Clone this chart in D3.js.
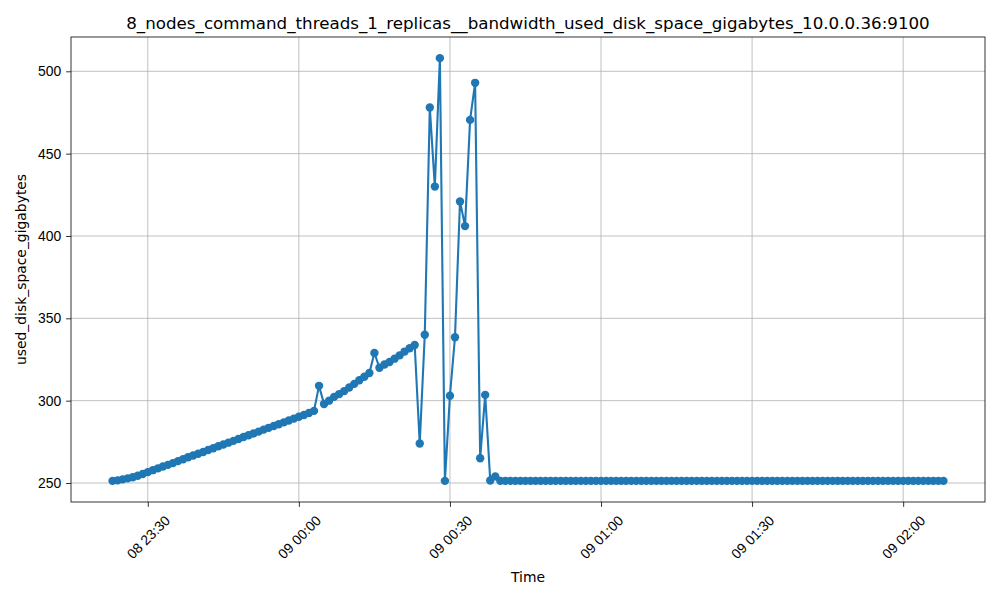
<!DOCTYPE html>
<html>
<head>
<meta charset="utf-8">
<script src="https://cdn.jsdelivr.net/npm/d3@7"></script>
<style>
  body { margin: 0; background: #fff; }
  svg { font-family: "DejaVu Sans", sans-serif; }
</style>
</head>
<body>
<div id="chart"></div>
<script>
// samples are one minute apart, starting at 08 23:23
var startTime = "2024-01-08T23:23:00Z";
var stepMinutes = 1;
var usedDisk = [
  251.3, 251.6, 252.2, 252.8, 253.5, 254.4, 255.5, 256.6, 257.8, 258.9,
  260.0, 261.0, 262.1, 263.3, 264.4, 265.6, 266.7, 267.8, 268.8, 270.0,
  271.1, 272.3, 273.4, 274.5, 275.6, 276.7, 277.9, 279.0, 280.1, 281.2,
  282.4, 283.5, 284.6, 285.7, 286.8, 288.0, 289.1, 290.2, 291.3, 292.5,
  293.8, 309.0, 298.0, 300.0, 302.3, 304.0, 305.8, 308.0, 310.2, 312.4,
  314.5, 316.8, 329.0, 320.0, 322.0, 323.5, 325.5, 327.5, 329.8, 331.8,
  333.8, 274.0, 340.0, 478.0, 430.0, 508.0, 251.3, 303.0, 338.5, 421.0,
  406.0, 470.5, 493.0, 265.0, 303.5, 251.5, 254.0, 251.3, 251.3, 251.3,
  251.3, 251.3, 251.3, 251.3, 251.3, 251.3, 251.3, 251.3, 251.3, 251.3,
  251.3, 251.3, 251.3, 251.3, 251.3, 251.3, 251.3, 251.3, 251.3, 251.3,
  251.3, 251.3, 251.3, 251.3, 251.3, 251.3, 251.3, 251.3, 251.3, 251.3,
  251.3, 251.3, 251.3, 251.3, 251.3, 251.3, 251.3, 251.3, 251.3, 251.3,
  251.3, 251.3, 251.3, 251.3, 251.3, 251.3, 251.3, 251.3, 251.3, 251.3,
  251.3, 251.3, 251.3, 251.3, 251.3, 251.3, 251.3, 251.3, 251.3, 251.3,
  251.3, 251.3, 251.3, 251.3, 251.3, 251.3, 251.3, 251.3, 251.3, 251.3,
  251.3, 251.3, 251.3, 251.3, 251.3, 251.3, 251.3, 251.3, 251.3, 251.3,
  251.3, 251.3, 251.3, 251.3, 251.3, 251.3
];
var yTicks = [250, 300, 350, 400, 450, 500];
var title = "8_nodes_command_threads_1_replicas__bandwidth_used_disk_space_gigabytes_10.0.0.36:9100";

var t0 = new Date(startTime);
var data = usedDisk.map(function(v, i) {
  return { time: d3.utcMinute.offset(t0, i * stepMinutes), value: v };
});

var W = 1000, H = 600;
var margin = {top: 37, right: 15, bottom: 98, left: 71};
var width = W - margin.left - margin.right,
    height = H - margin.top - margin.bottom;

var svg = d3.select("#chart").append("svg").attr("width", W).attr("height", H);
var g = svg.append("g").attr("transform", `translate(${margin.left},${margin.top})`);

var tExt = d3.extent(data, d => d.time);
var tPad = (tExt[1] - tExt[0]) * 0.05;
var xScale = d3.scaleUtc().domain([new Date(+tExt[0] - tPad), new Date(+tExt[1] + tPad)]).range([0, width]);
var yMin = d3.min(usedDisk), yMax = d3.max(usedDisk), yPad = (yMax - yMin) * 0.05;
var yScale = d3.scaleLinear().domain([yMin - yPad, yMax + yPad]).range([height, 0]);

var xTicks = xScale.ticks(d3.utcMinute.every(30));

// grid
g.append("g").selectAll("line").data(xTicks).enter().append("line")
  .attr("x1", d => xScale(d)).attr("x2", d => xScale(d))
  .attr("y1", 0).attr("y2", height)
  .attr("stroke", "#b0b0b0").attr("stroke-width", 0.8);
g.append("g").selectAll("line").data(yTicks).enter().append("line")
  .attr("x1", 0).attr("x2", width)
  .attr("y1", d => yScale(d)).attr("y2", d => yScale(d))
  .attr("stroke", "#b0b0b0").attr("stroke-width", 0.8);

// axes
var xAxis = d3.axisBottom(xScale).tickValues(xTicks).tickSize(4.9).tickFormat(d3.utcFormat("%d %H:%M"));
var gx = g.append("g").attr("transform", "translate(0," + height + ")").call(xAxis);
gx.select(".domain").remove();
gx.selectAll("line").attr("stroke", "#000").attr("stroke-width", 0.8);
gx.selectAll("text")
  .attr("font-size", "13.9px").attr("fill", "#000")
  .attr("y", 0).attr("dy", null)
  .attr("text-anchor", "middle").attr("dominant-baseline", "central")
  .attr("transform", "translate(0,35) rotate(-45)");

var yAxis = d3.axisLeft(yScale).tickValues(yTicks).tickSize(4.9).tickPadding(4.9);
var gy = g.append("g").call(yAxis);
gy.select(".domain").remove();
gy.selectAll("line").attr("stroke", "#000").attr("stroke-width", 0.8);
gy.selectAll("text").attr("font-size", "13.9px").attr("fill", "#000");

g.append("rect").attr("width", width).attr("height", height)
  .attr("fill", "none").attr("stroke", "#000").attr("stroke-width", 0.8);

// series
var line = d3.line().x(d => xScale(d.time)).y(d => yScale(d.value));
g.append("path").attr("d", line(data)).attr("fill", "none")
  .attr("stroke", "#1f77b4").attr("stroke-width", 2.1).attr("stroke-linejoin", "round");
g.append("g").selectAll("circle").data(data).enter().append("circle")
  .attr("cx", d => xScale(d.time)).attr("cy", d => yScale(d.value))
  .attr("r", 4.2).attr("fill", "#1f77b4");

// labels
svg.append("text").attr("x", margin.left + width / 2).attr("y", 29)
  .attr("text-anchor", "middle").attr("font-size", "16.7px").text(title);
svg.append("text").attr("x", margin.left + width / 2).attr("y", 582)
  .attr("text-anchor", "middle").attr("font-size", "13.9px").text("Time");
svg.append("text").attr("transform", `translate(26,${margin.top + height / 2}) rotate(-90)`)
  .attr("text-anchor", "middle").attr("font-size", "13.9px").text("used_disk_space_gigabytes");
</script>
</body>
</html>
